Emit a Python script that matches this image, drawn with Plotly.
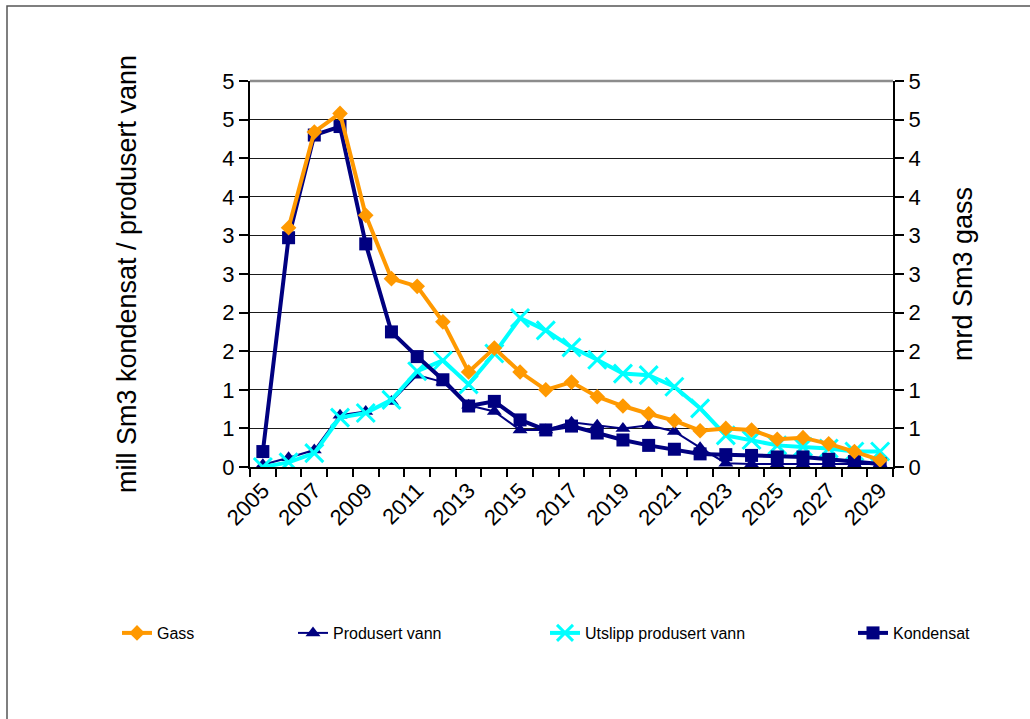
import plotly.graph_objects as go

# Production profile 2005-2029 (no gas sales in 2005)
years = list(range(2005, 2030))

gass = [None, 3.10, 4.34, 4.58, 3.26, 2.44, 2.34, 1.88, 1.23, 1.54, 1.23, 1.00, 1.10,
        0.91, 0.79, 0.69, 0.60, 0.47, 0.50, 0.48, 0.36, 0.38, 0.30, 0.20, 0.09]
produsert_vann = [0.03, 0.12, 0.22, 0.67, 0.72, 0.85, 1.19, 1.10, 0.80, 0.72, 0.48, 0.48, 0.58,
                  0.54, 0.50, 0.54, 0.46, 0.25, 0.05, 0.04, 0.04, 0.04, 0.04, 0.04, 0.04]
utslipp_produsert_vann = [0.00, 0.06, 0.18, 0.64, 0.70, 0.87, 1.24, 1.38, 1.07, 1.47, 1.93, 1.77, 1.55,
                          1.39, 1.21, 1.19, 1.04, 0.76, 0.41, 0.35, 0.28, 0.26, 0.24, 0.20, 0.20]
kondensat = [0.20, 2.97, 4.30, 4.41, 2.89, 1.75, 1.43, 1.13, 0.79, 0.85, 0.61, 0.48, 0.53,
             0.44, 0.35, 0.28, 0.23, 0.17, 0.16, 0.15, 0.13, 0.13, 0.10, 0.07, 0.04]

# Axis ticks (labels use whole-number formatting)
y_tick_vals = [0, 0.5, 1, 1.5, 2, 2.5, 3, 3.5, 4, 4.5, 5]
y_tick_text = ["0", "1", "1", "2", "2", "3", "3", "4", "4", "5", "5"]
x_tick_vals = list(range(2005, 2030, 2))
x_tick_text = [str(y) for y in x_tick_vals]

FONT = "Liberation Sans, Arial, sans-serif"
NAVY = "#000080"
ORANGE = "#FF9900"
CYAN = "#00FFFF"

# Pixel geometry of the plot area
W, H = 1030, 719
L, R, T, B = 250, 893, 81, 467


def px_x(p):
    return (p - L) / (R - L)


def px_y(p):
    return (B - p) / (B - T)


fig = go.Figure()

fig.add_trace(go.Scatter(
    x=years, y=produsert_vann, name="Produsert vann", mode="lines+markers",
    line=dict(color=NAVY, width=2),
    marker=dict(symbol="triangle-up", size=13, color=NAVY),
    legend="legend2",
))
fig.add_trace(go.Scatter(
    x=years, y=utslipp_produsert_vann, name="Utslipp produsert vann", mode="lines+markers",
    line=dict(color=CYAN, width=4),
    marker=dict(symbol="x-thin", size=18, color=CYAN, line=dict(color=CYAN, width=3)),
    legend="legend3",
))
fig.add_trace(go.Scatter(
    x=years, y=gass, name="Gass", mode="lines+markers", yaxis="y2",
    line=dict(color=ORANGE, width=4),
    marker=dict(symbol="diamond", size=12, color=ORANGE),
    legend="legend",
))
fig.add_trace(go.Scatter(
    x=years, y=kondensat, name="Kondensat", mode="lines+markers",
    line=dict(color=NAVY, width=4),
    marker=dict(symbol="square", size=13, color=NAVY),
    legend="legend4",
))

legend_common = dict(
    orientation="h", yanchor="middle", xanchor="left",
    font=dict(family=FONT, size=16, color="black"),
    bgcolor="rgba(0,0,0,0)", borderwidth=0,
)
legend_y = px_y(633)

fig.update_layout(
    width=W, height=H,
    margin=dict(l=L, r=W - R, t=T, b=H - B),
    paper_bgcolor="white", plot_bgcolor="white",
    font=dict(family=FONT, size=21, color="black"),
    showlegend=True,
    legend=dict(x=px_x(117), y=legend_y, **legend_common),
    legend2=dict(x=px_x(293), y=legend_y, **legend_common),
    legend3=dict(x=px_x(545), y=legend_y, **legend_common),
    legend4=dict(x=px_x(853), y=legend_y, **legend_common),
    xaxis=dict(
        range=[2004.5, 2029.5],
        tickmode="array", tickvals=x_tick_vals, ticktext=x_tick_text,
        tickangle=-45, ticks="", showgrid=False, zeroline=False,
        showline=True, linecolor="black", linewidth=2,
        tickfont=dict(family=FONT, size=22, color="black"),
        minor=dict(tick0=2004.5, dtick=1, ticks="outside", ticklen=8,
                   tickcolor="black", tickwidth=1.5, showgrid=False),
    ),
    yaxis=dict(
        range=[0, 5],
        tickmode="array", tickvals=y_tick_vals, ticktext=y_tick_text,
        ticks="outside", ticklen=9, tickcolor="black", tickwidth=1.5,
        showline=True, linecolor="black", linewidth=2,
        showgrid=True, gridcolor="#1a1a1a", gridwidth=1.3, zeroline=False,
        tickfont=dict(family=FONT, size=22, color="black"),
        title=dict(text="mill Sm3 kondensat / produsert vann",
                   font=dict(family=FONT, size=27, color="black"), standoff=78),
    ),
    yaxis2=dict(
        range=[0, 5], overlaying="y", side="right",
        tickmode="array", tickvals=y_tick_vals, ticktext=y_tick_text,
        ticks="outside", ticklen=9, tickcolor="black", tickwidth=1.5,
        showline=True, linecolor="black", linewidth=2,
        showgrid=False, zeroline=False,
        tickfont=dict(family=FONT, size=22, color="black"),
        title=dict(text="mrd Sm3 gass",
                   font=dict(family=FONT, size=27, color="black"), standoff=33),
    ),
    shapes=[
        # gray top edge of the plot area
        dict(type="line", xref="paper", yref="paper", x0=0, x1=1, y0=1, y1=1,
             line=dict(color="#8c8c8c", width=2.5)),
        # outer chart frame
        dict(type="rect", xref="paper", yref="paper",
             x0=px_x(7), x1=px_x(1040), y0=px_y(730), y1=px_y(6),
             line=dict(color="#555555", width=1.5), layer="below"),
    ],
)

fig.write_html("out.html")
